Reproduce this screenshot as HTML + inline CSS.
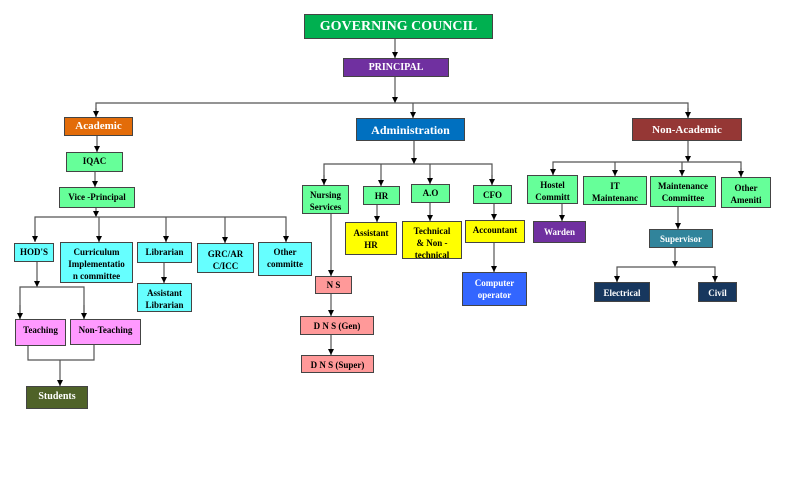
<!DOCTYPE html>
<html><head><meta charset="utf-8"><style>
body{margin:0;background:#fff;width:792px;height:497px;position:relative;overflow:hidden;font-family:"Liberation Serif",serif;font-weight:bold}
.b{position:absolute;box-sizing:border-box;border:1px solid #444;text-align:center;font-size:9px;line-height:12px;padding-top:3px;overflow:hidden;color:#000;white-space:nowrap}
.w{color:#fff}
svg{position:absolute;left:0;top:0}
</style></head><body>
<svg width="792" height="497">
<defs><marker id="a" markerWidth="6" markerHeight="6" refX="6" refY="3" orient="auto" markerUnits="userSpaceOnUse"><path d="M0,0 L6,3 L0,6 z" fill="#000"/></marker></defs>
<g stroke="#555" stroke-width="1.2" fill="none">
<line x1="395" y1="39" x2="395" y2="58" marker-end="url(#a)"/>
<line x1="395" y1="77" x2="395" y2="103" marker-end="url(#a)"/>
<polyline points="96,117 96,103 688,103 688,118"/>
<line x1="96" y1="108" x2="96" y2="117" marker-end="url(#a)"/>
<line x1="413" y1="103" x2="413" y2="118" marker-end="url(#a)"/>
<line x1="688" y1="108" x2="688" y2="118" marker-end="url(#a)"/>
<line x1="97" y1="136" x2="97" y2="152" marker-end="url(#a)"/>
<line x1="95" y1="172" x2="95" y2="187" marker-end="url(#a)"/>
<line x1="96" y1="208" x2="96" y2="217" marker-end="url(#a)"/>
<polyline points="35,241 35,217 286,217 286,241"/>
<line x1="35" y1="230" x2="35" y2="242" marker-end="url(#a)"/>
<line x1="99" y1="217" x2="99" y2="242" marker-end="url(#a)"/>
<line x1="166" y1="217" x2="166" y2="242" marker-end="url(#a)"/>
<line x1="225" y1="217" x2="225" y2="243" marker-end="url(#a)"/>
<line x1="286" y1="230" x2="286" y2="242" marker-end="url(#a)"/>
<line x1="164" y1="263" x2="164" y2="283" marker-end="url(#a)"/>
<line x1="37" y1="262" x2="37" y2="287" marker-end="url(#a)"/>
<polyline points="20,319 20,287 84,287 84,319"/>
<line x1="20" y1="305" x2="20" y2="319" marker-end="url(#a)"/>
<line x1="84" y1="305" x2="84" y2="319" marker-end="url(#a)"/>
<polyline points="28,346 28,360 94,360 94,345"/>
<line x1="60" y1="360" x2="60" y2="386" marker-end="url(#a)"/>
<line x1="414" y1="141" x2="414" y2="164" marker-end="url(#a)"/>
<polyline points="324,185 324,164 492,164 492,185"/>
<line x1="324" y1="175" x2="324" y2="185" marker-end="url(#a)"/>
<line x1="381" y1="164" x2="381" y2="186" marker-end="url(#a)"/>
<line x1="430" y1="164" x2="430" y2="184" marker-end="url(#a)"/>
<line x1="492" y1="175" x2="492" y2="185" marker-end="url(#a)"/>
<line x1="331" y1="214" x2="331" y2="276" marker-end="url(#a)"/>
<line x1="377" y1="205" x2="377" y2="222" marker-end="url(#a)"/>
<line x1="430" y1="203" x2="430" y2="221" marker-end="url(#a)"/>
<line x1="494" y1="204" x2="494" y2="220" marker-end="url(#a)"/>
<line x1="494" y1="243" x2="494" y2="272" marker-end="url(#a)"/>
<line x1="331" y1="294" x2="331" y2="316" marker-end="url(#a)"/>
<line x1="331" y1="335" x2="331" y2="355" marker-end="url(#a)"/>
<line x1="688" y1="141" x2="688" y2="162" marker-end="url(#a)"/>
<polyline points="553,175 553,162 741,162 741,177"/>
<line x1="553" y1="168" x2="553" y2="175" marker-end="url(#a)"/>
<line x1="615" y1="162" x2="615" y2="176" marker-end="url(#a)"/>
<line x1="682" y1="162" x2="682" y2="176" marker-end="url(#a)"/>
<line x1="741" y1="168" x2="741" y2="177" marker-end="url(#a)"/>
<line x1="562" y1="204" x2="562" y2="221" marker-end="url(#a)"/>
<line x1="678" y1="207" x2="678" y2="229" marker-end="url(#a)"/>
<line x1="675" y1="248" x2="675" y2="267" marker-end="url(#a)"/>
<polyline points="617,282 617,267 715,267 715,282"/>
<line x1="617" y1="274" x2="617" y2="282" marker-end="url(#a)"/>
<line x1="715" y1="274" x2="715" y2="282" marker-end="url(#a)"/>
</g></svg>
<div class="b w" style="left:304px;top:14px;width:189px;height:25px;background:#00b050;font-size:14px;line-height:18px;padding-top:3px">GOVERNING COUNCIL</div>
<div class="b w" style="left:343px;top:58px;width:106px;height:19px;background:#7030a0;font-size:10px">PRINCIPAL</div>
<div class="b w" style="left:64px;top:117px;width:69px;height:19px;background:#e36c09;font-size:11px;padding-top:2px">Academic</div>
<div class="b w" style="left:356px;top:118px;width:109px;height:23px;background:#0070c0;font-size:12px;line-height:14px;padding-top:4px">Administration</div>
<div class="b w" style="left:632px;top:118px;width:110px;height:23px;background:#953735;font-size:11px;padding-top:5px">Non-Academic</div>
<div class="b" style="left:66px;top:152px;width:57px;height:20px;background:#66ff99;padding-top:2px">IQAC</div>
<div class="b" style="left:59px;top:187px;width:76px;height:21px;background:#66ff99;padding-top:3px">Vice -Principal</div>
<div class="b" style="left:14px;top:243px;width:40px;height:19px;background:#66ffff;padding-top:2px">HOD'S</div>
<div class="b" style="left:60px;top:242px;width:73px;height:41px;background:#66ffff">Curriculum<br>Implementatio<br>n committee</div>
<div class="b" style="left:137px;top:242px;width:55px;height:21px;background:#66ffff">Librarian</div>
<div class="b" style="left:137px;top:283px;width:55px;height:29px;background:#66ffff">Assistant<br>Librarian</div>
<div class="b" style="left:197px;top:243px;width:57px;height:30px;background:#66ffff;padding-top:4px">GRC/AR<br>C/ICC</div>
<div class="b" style="left:258px;top:242px;width:54px;height:34px;background:#66ffff">Other<br>committe</div>
<div class="b" style="left:15px;top:319px;width:51px;height:27px;background:#ff99ff;padding-top:4px">Teaching</div>
<div class="b" style="left:70px;top:319px;width:71px;height:26px;background:#ff99ff;padding-top:4px">Non-Teaching</div>
<div class="b w" style="left:26px;top:386px;width:62px;height:23px;background:#4f6228;font-size:10px;padding-top:4px">Students</div>
<div class="b" style="left:302px;top:185px;width:47px;height:29px;background:#66ff99">Nursing<br>Services</div>
<div class="b" style="left:363px;top:186px;width:37px;height:19px;background:#66ff99;padding-top:3px">HR</div>
<div class="b" style="left:411px;top:184px;width:39px;height:19px;background:#66ff99;padding-top:2px">A.O</div>
<div class="b" style="left:473px;top:185px;width:39px;height:19px;background:#66ff99;padding-top:3px">CFO</div>
<div class="b" style="left:345px;top:222px;width:52px;height:33px;background:#ffff00;padding-top:4px">Assistant<br>HR</div>
<div class="b" style="left:402px;top:221px;width:60px;height:38px;background:#ffff00">Technical<br>&amp; Non -<br>technical</div>
<div class="b" style="left:465px;top:220px;width:60px;height:23px;background:#ffff00">Accountant</div>
<div class="b w" style="left:462px;top:272px;width:65px;height:34px;background:#3366ff;padding-top:4px">Computer<br>operator</div>
<div class="b" style="left:315px;top:276px;width:37px;height:18px;background:#ff9999;padding-top:2px">N S</div>
<div class="b" style="left:300px;top:316px;width:74px;height:19px;background:#ff9999;padding-top:3px">D N S (Gen)</div>
<div class="b" style="left:301px;top:355px;width:73px;height:18px;background:#ff9999;padding-top:3px">D N S (Super)</div>
<div class="b" style="left:527px;top:175px;width:51px;height:29px;background:#66ff99">Hostel<br>Committ</div>
<div class="b" style="left:583px;top:176px;width:64px;height:29px;background:#66ff99">IT<br>Maintenanc</div>
<div class="b" style="left:650px;top:176px;width:66px;height:31px;background:#66ff99">Maintenance<br>Committee</div>
<div class="b" style="left:721px;top:177px;width:50px;height:31px;background:#66ff99;padding-top:4px">Other<br>Ameniti</div>
<div class="b w" style="left:533px;top:221px;width:53px;height:22px;background:#7030a0;padding-top:4px">Warden</div>
<div class="b w" style="left:649px;top:229px;width:64px;height:19px;background:#31849b;padding-top:3px">Supervisor</div>
<div class="b w" style="left:594px;top:282px;width:56px;height:20px;background:#17375e;padding-top:4px">Electrical</div>
<div class="b w" style="left:698px;top:282px;width:39px;height:20px;background:#17375e;padding-top:4px">Civil</div>
</body></html>
